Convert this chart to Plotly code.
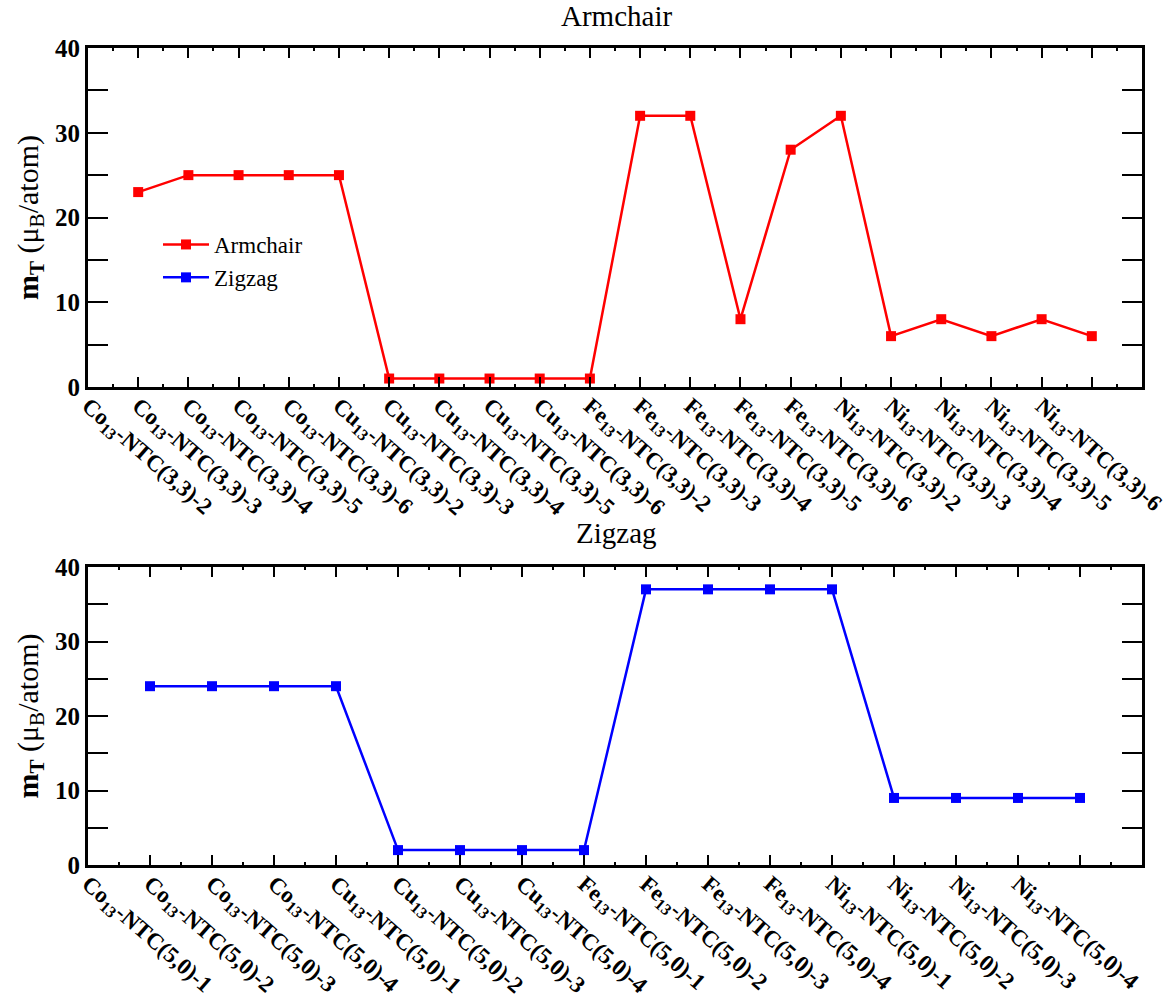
import plotly.graph_objects as go

arm_labels = ["Co<sub>13</sub>-NTC(3,3)-2", "Co<sub>13</sub>-NTC(3,3)-3", "Co<sub>13</sub>-NTC(3,3)-4",
              "Co<sub>13</sub>-NTC(3,3)-5", "Co<sub>13</sub>-NTC(3,3)-6",
              "Cu<sub>13</sub>-NTC(3,3)-2", "Cu<sub>13</sub>-NTC(3,3)-3", "Cu<sub>13</sub>-NTC(3,3)-4",
              "Cu<sub>13</sub>-NTC(3,3)-5", "Cu<sub>13</sub>-NTC(3,3)-6",
              "Fe<sub>13</sub>-NTC(3,3)-2", "Fe<sub>13</sub>-NTC(3,3)-3", "Fe<sub>13</sub>-NTC(3,3)-4",
              "Fe<sub>13</sub>-NTC(3,3)-5", "Fe<sub>13</sub>-NTC(3,3)-6",
              "Ni<sub>13</sub>-NTC(3,3)-2", "Ni<sub>13</sub>-NTC(3,3)-3", "Ni<sub>13</sub>-NTC(3,3)-4",
              "Ni<sub>13</sub>-NTC(3,3)-5", "Ni<sub>13</sub>-NTC(3,3)-6"]
arm_values = [23, 25, 25, 25, 25, 1, 1, 1, 1, 1, 32, 32, 8, 28, 32, 6, 8, 6, 8, 6]

zig_labels = ["Co<sub>13</sub>-NTC(5,0)-1", "Co<sub>13</sub>-NTC(5,0)-2", "Co<sub>13</sub>-NTC(5,0)-3",
              "Co<sub>13</sub>-NTC(5,0)-4",
              "Cu<sub>13</sub>-NTC(5,0)-1", "Cu<sub>13</sub>-NTC(5,0)-2", "Cu<sub>13</sub>-NTC(5,0)-3",
              "Cu<sub>13</sub>-NTC(5,0)-4",
              "Fe<sub>13</sub>-NTC(5,0)-1", "Fe<sub>13</sub>-NTC(5,0)-2", "Fe<sub>13</sub>-NTC(5,0)-3",
              "Fe<sub>13</sub>-NTC(5,0)-4",
              "Ni<sub>13</sub>-NTC(5,0)-1", "Ni<sub>13</sub>-NTC(5,0)-2", "Ni<sub>13</sub>-NTC(5,0)-3",
              "Ni<sub>13</sub>-NTC(5,0)-4"]
zig_values = [24, 24, 24, 24, 2, 2, 2, 2, 37, 37, 37, 37, 9, 9, 9, 9]

FONT = "Times New Roman, Liberation Serif, serif"

W, H = 1167, 997
L, R, T, B = 88, 25, 48, 132
pw, ph = W - L - R, H - T - B

def dom(y0, y1):
    return [(H - B - y1) / ph, (H - B - y0) / ph]

def px_x(x):
    return (x - L) / pw

def px_y(y):
    return (H - B - y) / ph

fig = go.Figure()
fig.add_trace(go.Scatter(
    x=list(range(1, len(arm_values) + 1)), y=arm_values, name="Armchair",
    mode="lines+markers", line=dict(color="#ff0000", width=2.5),
    marker=dict(symbol="square", size=10, color="#ff0000"),
    xaxis="x", yaxis="y"))
fig.add_trace(go.Scatter(
    x=list(range(1, len(zig_values) + 1)), y=zig_values, name="Zigzag",
    mode="lines+markers", line=dict(color="#0000ff", width=2.5),
    marker=dict(symbol="square", size=10, color="#0000ff"),
    xaxis="x2", yaxis="y2"))

label_x = dict(showline=False, ticks="", showgrid=False, zeroline=False, tickangle=41,
               ticklabeloverflow="allow", automargin=False,
               tickfont=dict(family=FONT, size=23, color="black", weight="bold"))
tick_x = dict(showline=True, linewidth=3, linecolor="black", mirror="allticks",
              ticks="inside", ticklen=10, tickwidth=2, tickcolor="black", automargin=False,
              showgrid=False, zeroline=False, showticklabels=False, dtick=1, tick0=0,
              minor=dict(ticks="inside", ticklen=3, tickwidth=1.5, tickcolor="black", dtick=0.5, showgrid=False))
common_y = dict(showline=True, linewidth=3, linecolor="black", mirror="allticks",
                ticks="inside", ticklen=20, tickwidth=2, tickcolor="black", automargin=False,
                showgrid=False, zeroline=False, range=[0, 40], tickvals=[0, 10, 20, 30, 40],
                tickfont=dict(family=FONT, size=25, color="black", weight="bold"),
                minor=dict(ticks="inside", ticklen=3, tickwidth=1.5, tickcolor="black", dtick=5, showgrid=False),
                title=dict(text="<b>m<sub>T</sub></b> (μ<sub>B</sub>/atom)",
                           font=dict(family=FONT, size=30, color="black"), standoff=8))

nA, nZ = len(arm_values), len(zig_values)
fig.update_layout(
    width=W, height=H,
    margin=dict(l=L, r=R, t=T, b=B),
    plot_bgcolor="white", paper_bgcolor="white",
    font=dict(family=FONT, color="black"),
    xaxis=dict(label_x, range=[0, nA + 1], domain=[0, 1], anchor="y",
               tickvals=list(range(nA)), ticktext=arm_labels),
    xaxis3=dict(tick_x, range=[0, nA + 1], domain=[0, 1], anchor="y", overlaying="x"),
    yaxis=dict(common_y, domain=dom(48, 387), anchor="x"),
    xaxis2=dict(label_x, range=[0, nZ + 1], domain=[0, 1], anchor="y2",
                tickvals=list(range(nZ)), ticktext=zig_labels),
    xaxis4=dict(tick_x, range=[0, nZ + 1], domain=[0, 1], anchor="y2", overlaying="x2"),
    yaxis2=dict(common_y, domain=dom(567, 865), anchor="x2"),
    legend=dict(x=px_x(158), y=px_y(223), xanchor="left", yanchor="top",
                bgcolor="rgba(0,0,0,0)", font=dict(family=FONT, size=23, color="black"),
                itemwidth=46),
    showlegend=True,
    annotations=[
        dict(text="Armchair", x=px_x(616), y=px_y(16), xref="paper", yref="paper", showarrow=False,
             xanchor="center", yanchor="middle", font=dict(family=FONT, size=29, color="black")),
        dict(text="Zigzag", x=px_x(616), y=px_y(533), xref="paper", yref="paper", showarrow=False,
             xanchor="center", yanchor="middle", font=dict(family=FONT, size=29, color="black")),
    ],
)
# empty traces so the overlay tick-only axes are drawn
fig.add_trace(go.Scatter(x=[None], y=[None], xaxis="x3", yaxis="y", showlegend=False, hoverinfo="skip"))
fig.add_trace(go.Scatter(x=[None], y=[None], xaxis="x4", yaxis="y2", showlegend=False, hoverinfo="skip"))
fig.write_html("out.html")
